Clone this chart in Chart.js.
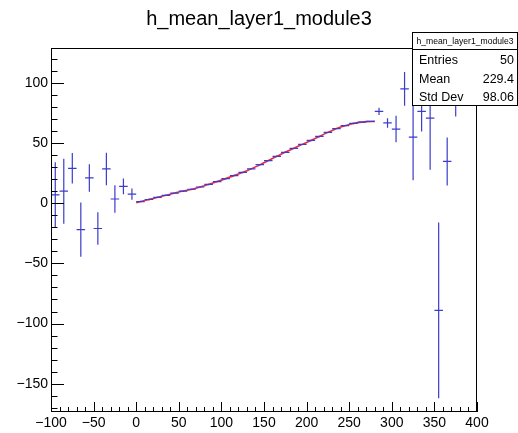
<!DOCTYPE html>
<html>
<head>
<meta charset="utf-8">
<title>h_mean_layer1_module3</title>
<script src="https://cdn.jsdelivr.net/npm/chart.js@4/dist/chart.umd.min.js"></script>
<style>
  html, body { margin: 0; padding: 0; background: #fff; }
  canvas { display: block; }
</style>
</head>
<body>
<canvas id="histo" width="518" height="433"></canvas>
<script>
// Histogram h_mean_layer1_module3: 50 bins of width 10 from -100 to 400
const histTitle = 'h_mean_layer1_module3';
const binWidth = 10;
const binCenters = [
  -95, -85, -75, -65, -55, -45, -35, -25, -15, -5,
  5, 15, 25, 35, 45, 55, 65, 75, 85, 95,
  105, 115, 125, 135, 145, 155, 165, 175, 185, 195,
  205, 215, 225, 235, 245, 255, 265, 275, 285, 295,
  305, 315, 325, 335, 345, 355, 365, 375, 385, 395
];
const binValues = [
  7, 10, 29, -22, 21, -21, 28.5, 3.5, 14, 7.5,
  1.4, 3.1, 4.9, 6.6, 8.4, 10, 11.6, 13.5, 15.6, 18,
  20.4, 23, 25.6, 28.6, 32, 35.4, 39, 42.3, 45.6, 48.9,
  52.2, 55.5, 58.9, 62, 64.5, 66.3, 67.4, 68, 76.4, 66.7,
  61.6, 95, 55, 76.4, 70.8, -89, 34.7, 90, null, null
];
const binErrors = [
  27, 27, 12.7, 22.5, 11.4, 13.5, 13.5, 11.5, 6.5, 4.7,
  0.6, 0.6, 0.6, 0.6, 0.6, 0.6, 0.6, 0.6, 0.6, 0.6,
  0.6, 0.6, 0.6, 0.6, 0.6, 0.6, 0.6, 0.6, 0.6, 0.6,
  0.6, 0.6, 0.6, 0.6, 0.6, 0.6, 0.6, 0.6, 3, 4,
  11, 14, 36, 16.7, 43, 73, 20, 18, 0, 0
];

// polynomial fit drawn over the bins from 0 to 280
const fitX = [0, 10, 20, 30, 40, 50, 60, 70, 80, 90, 100, 110, 120, 130, 140,
  150, 160, 170, 180, 190, 200, 210, 220, 230, 240, 250, 260, 270, 280];
const fitY = [0.5, 2.2, 4, 5.8, 7.5, 9.3, 10.8, 12.5, 14.5, 16.8, 19.2, 21.7, 24.2, 27, 30.2,
  33.7, 37.2, 40.7, 44, 47.3, 50.5, 53.8, 57.2, 60.5, 63.3, 65.5, 67, 67.8, 68];

const xTicks = [-100, -50, 0, 50, 100, 150, 200, 250, 300, 350, 400];
const yTicks = [-150, -100, -50, 0, 50, 100];
const minorStep = 10;

const statsLabels = ['Entries', 'Mean', 'Std Dev'];
const statsValues = ['50', '229.4', '98.06'];

const lineBlue = 'rgb(60, 60, 205)';
const fitRed = 'rgb(225, 45, 70)';
const fontName = '"Liberation Sans", Arial, Helvetica, sans-serif';

const minus = v => String(v).replace('-', '\u2212');

// error bars: vertical +-error, horizontal over the bin width
const errorBars = {
  id: 'errorBars',
  afterDatasetsDraw(chart) {
    const { ctx, chartArea: a, scales: { x, y } } = chart;
    ctx.save();
    ctx.beginPath();
    ctx.rect(a.left, a.top, a.width, a.height);
    ctx.clip();
    ctx.strokeStyle = lineBlue;
    ctx.lineWidth = 1.2;
    binCenters.forEach((c, i) => {
      const v = binValues[i];
      if (v === null) return;
      const px = x.getPixelForValue(c);
      const py = y.getPixelForValue(v);
      ctx.beginPath();
      ctx.moveTo(x.getPixelForValue(c - binWidth / 2), py);
      ctx.lineTo(x.getPixelForValue(c + binWidth / 2), py);
      if (binErrors[i] > 0) {
        ctx.moveTo(px, y.getPixelForValue(v - binErrors[i]));
        ctx.lineTo(px, y.getPixelForValue(v + binErrors[i]));
      }
      ctx.stroke();
    });
    ctx.restore();
  }
};

// frame box with inward major/minor ticks, title, stats box
const frameAndStats = {
  id: 'frameAndStats',
  afterDraw(chart) {
    const { ctx, chartArea: a, scales: { x, y } } = chart;
    ctx.save();
    ctx.strokeStyle = '#000';
    ctx.lineWidth = 1;
    ctx.strokeRect(Math.round(a.left) + 0.5, Math.round(a.top) + 0.5,
      Math.round(a.width) - 1, Math.round(a.height) - 1);

    ctx.beginPath();
    for (let v = Math.ceil(y.min / minorStep) * minorStep; v <= y.max; v += minorStep) {
      const py = Math.round(y.getPixelForValue(v)) + 0.5;
      const len = yTicks.includes(v) ? 13 : 6.5;
      ctx.moveTo(a.left, py);
      ctx.lineTo(a.left + len, py);
    }
    for (let v = x.min; v <= x.max; v += minorStep) {
      const px = Math.round(x.getPixelForValue(v)) + 0.5;
      const len = xTicks.includes(v) ? 10 : 5;
      ctx.moveTo(px, a.bottom);
      ctx.lineTo(px, a.bottom - len);
    }
    ctx.stroke();

    // title
    ctx.fillStyle = '#000';
    ctx.font = '20px ' + fontName;
    ctx.textAlign = 'center';
    ctx.textBaseline = 'middle';
    ctx.fillText(histTitle, 259, 19);

    // stats box
    const bx = 412.5, by = 32.5, bw = 105, bh = 73;
    ctx.fillStyle = '#fff';
    ctx.fillRect(bx, by, bw, bh);
    ctx.strokeRect(bx, by, bw, bh);
    ctx.beginPath();
    ctx.moveTo(bx, 49.5);
    ctx.lineTo(bx + bw, 49.5);
    ctx.stroke();
    ctx.fillStyle = '#000';
    ctx.font = '8.6px ' + fontName;
    ctx.fillText(histTitle, bx + bw / 2, 41.5);
    ctx.font = '12.5px ' + fontName;
    statsLabels.forEach((lab, i) => {
      const ty = 61 + i * 18.3;
      ctx.textAlign = 'left';
      ctx.fillText(lab, 419, ty);
      ctx.textAlign = 'right';
      ctx.fillText(statsValues[i], 514, ty);
    });
    ctx.restore();
  }
};

const tickFont = { family: fontName, size: 14 };

new Chart(document.getElementById('histo'), {
  type: 'scatter',
  data: {
    datasets: [{
      type: 'line',
      label: 'fit',
      data: fitX.map((fx, i) => ({ x: fx, y: fitY[i] })),
      borderColor: fitRed,
      borderWidth: 1.6,
      pointRadius: 0,
      cubicInterpolationMode: 'monotone',
      fill: false
    }, {
      label: histTitle,
      data: binCenters.map((c, i) => ({ x: c, y: binValues[i] })).filter(p => p.y !== null),
      pointRadius: 0,
      showLine: false
    }]
  },
  options: {
    responsive: false,
    animation: false,
    layout: { padding: { top: 48, right: 41, left: 0, bottom: 0 } },
    plugins: {
      legend: { display: false },
      tooltip: { enabled: false },
      title: { display: false }
    },
    scales: {
      x: {
        type: 'linear',
        min: -100,
        max: 400,
        grid: { display: false, drawTicks: false },
        border: { display: false },
        ticks: { color: '#000', font: tickFont, padding: 3, maxRotation: 0, callback: v => minus(v) },
        afterBuildTicks: s => { s.ticks = xTicks.map(v => ({ value: v })); },
        afterFit: s => { s.height = 21; }
      },
      y: {
        type: 'linear',
        min: -173.5,
        max: 129,
        grid: { display: false, drawTicks: false },
        border: { display: false },
        ticks: { color: '#000', font: tickFont, padding: 3, callback: v => minus(v) },
        afterBuildTicks: s => { s.ticks = yTicks.map(v => ({ value: v })); },
        afterFit: s => { s.width = 51; }
      }
    }
  },
  plugins: [errorBars, frameAndStats]
});
</script>
</body>
</html>
